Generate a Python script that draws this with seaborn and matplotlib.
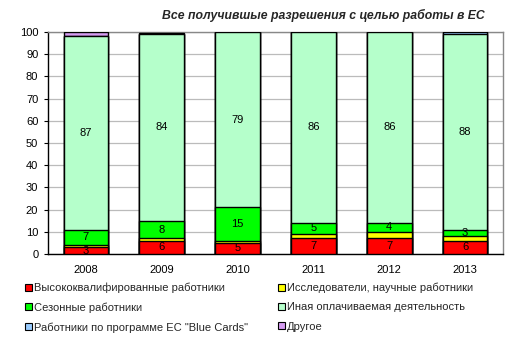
import matplotlib
matplotlib.use("Agg")
import matplotlib.pyplot as plt
from matplotlib.patches import Patch
import numpy as np
import pandas as pd
import seaborn as sns

years = ["2008", "2009", "2010", "2011", "2012", "2013"]
highly_qualified = [3, 6, 5, 7, 7, 6]
researchers = [1, 1, 1, 2, 3, 2]
seasonal = [7, 8, 15, 5, 4, 3]
other_paid = [87, 84, 79, 86, 86, 88]
blue_cards = [0, 0.3, 0, 0, 0, 1]
other = [2, 0.4, 0, 0, 0, 0]

series_names = [
    "Высококвалифированные работники",
    "Исследователи, научные работники",
    "Сезонные работники",
    "Иная оплачиваемая деятельность",
    "Работники по программе ЕС \"Blue Cards\"",
    "Другое",
]
series_values = [highly_qualified, researchers, seasonal, other_paid, blue_cards, other]
series_colors = ["#FF0000", "#FFFF00", "#00FF00", "#B5FFCB", "#99CCFF", "#D69CF2"]
labelled = [True, False, True, True, False, False]

sns.set_theme(style="white")
plt.rcParams["font.family"] = ["Liberation Sans", "DejaVu Sans"]

fig = plt.figure(figsize=(5.17, 3.43), dpi=100)
ax = fig.add_axes([48 / 517, 89 / 343, 455 / 517, 222 / 343])

vals = np.array(series_values, dtype=float)
cum = np.cumsum(vals, axis=0)

# Stacked bars: draw cumulative totals from the top layer down
for i in range(len(series_names) - 1, -1, -1):
    df = pd.DataFrame({"year": years, "value": cum[i]})
    sns.barplot(data=df, x="year", y="value", order=years, color=series_colors[i],
                saturation=1, width=0.59, edgecolor="black", linewidth=1.0,
                ax=ax, zorder=3)

# Segment value labels
for i, show in enumerate(labelled):
    if not show:
        continue
    base = cum[i] - vals[i]
    for j, v in enumerate(vals[i]):
        ax.text(j, base[j] + v / 2, f"{v:g}", ha="center", va="center",
                fontsize=8, color="black", zorder=5)

ax.set_xlim(-0.5, len(years) - 0.5)
ax.set_ylim(0, 100)
ax.set_yticks(range(0, 101, 10))
ax.set_xlabel("")
ax.set_ylabel("")
ax.grid(axis="y", color="#BBBBBB", linewidth=0.9, zorder=0)
ax.set_axisbelow(True)
for side in ["top", "right"]:
    ax.spines[side].set_color("#888888")
    ax.spines[side].set_linewidth(1.0)
for side in ["left", "bottom"]:
    ax.spines[side].set_color("black")
    ax.spines[side].set_linewidth(1.0)
ax.tick_params(axis="y", left=True, length=3, width=0.8, color="black",
               labelsize=8, pad=4, labelcolor="black")
ax.tick_params(axis="x", bottom=False, labelsize=8, pad=2, labelcolor="black")

fig.text(323 / 517, 1 - 15 / 343, "Все получившые разрешения с целью работы в ЕС",
         ha="center", va="center", fontsize=8.8, fontweight="bold", fontstyle="italic")

# Legend arranged row-wise in two columns
order = [0, 2, 4, 1, 3, 5]
handles = [Patch(facecolor=series_colors[k], edgecolor="black", linewidth=0.8) for k in order]
labels = [series_names[k] for k in order]
fig.legend(handles, labels, ncol=2, loc="upper left",
           bbox_to_anchor=(21 / 517, 1 - 278 / 343), frameon=False,
           fontsize=8, handlelength=0.6, handleheight=0.6, handletextpad=0.2,
           columnspacing=2.7, labelspacing=0.85, borderaxespad=0)

fig.savefig("out.png", dpi=100)
